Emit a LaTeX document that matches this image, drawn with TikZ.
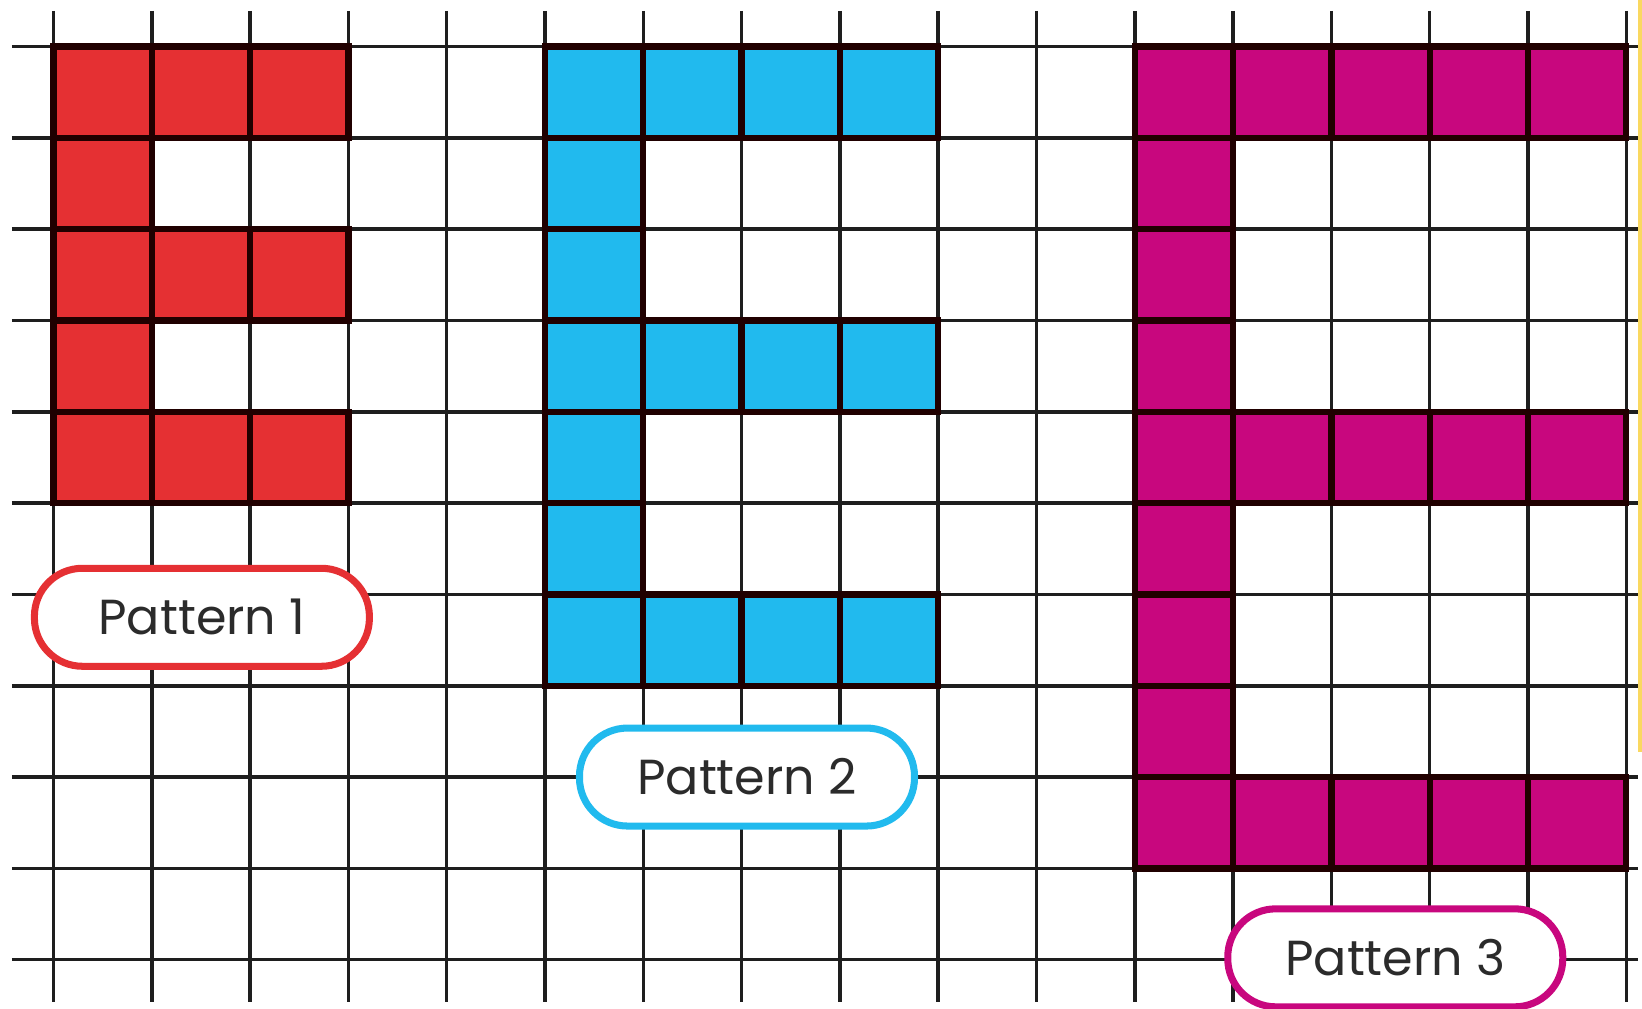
\documentclass[tikz,border=0pt]{standalone}
\usepackage{fontspec}
\setsansfont{Poppins}
\usepackage{tikz}
\usetikzlibrary{positioning}
\definecolor{patred}{HTML}{E53033}
\definecolor{patblue}{HTML}{21BAEE}
\definecolor{patmagenta}{HTML}{C8077E}
\definecolor{gridgray}{HTML}{1E1E1E}
\definecolor{celledge}{HTML}{200000}
\definecolor{edgegold}{HTML}{FAD860}
\definecolor{labeltext}{HTML}{2B2B2B}

\begin{document}
\begin{tikzpicture}[
  x=0.983cm, y=-0.913cm,
  gridline/.style={draw=gridgray, line width=1pt},
  cell/.style={draw=celledge, line width=1.8pt},
  pill/.style={rectangle, fill=white, line width=2pt, rounded corners=0.48cm, minimum width=3.35cm, minimum height=0.98cm, text=labeltext, font=\sffamily\fontsize{14}{16}\selectfont}
]
  \useasboundingbox (-0.544,-0.511) rectangle (16.16,10.54);

  % grid
  \foreach \c in {0,...,16}
    \draw[gridline] (\c,-0.391) -- (\c,10.46);
  \foreach \r in {0,...,10}
    \draw[gridline] (-0.422,\r) -- (16.12,\r);

  % pattern 1
  \foreach \c/\r in {0/0,1/0,2/0,0/1,0/2,1/2,2/2,0/3,0/4,1/4,2/4}
    \draw[cell, fill=patred] (\c,\r) rectangle ++(1,1);

  % pattern 2
  \foreach \r in {0,3,6}
    \foreach \c in {5,...,8}
      \draw[cell, fill=patblue] (\c,\r) rectangle ++(1,1);
  \foreach \r in {1,2,4,5}
    \draw[cell, fill=patblue] (5,\r) rectangle ++(1,1);

  % pattern 3
  \foreach \r in {0,4,8}
    \foreach \c in {11,...,15}
      \draw[cell, fill=patmagenta] (\c,\r) rectangle ++(1,1);
  \foreach \r in {1,2,3,5,6,7}
    \draw[cell, fill=patmagenta] (11,\r) rectangle ++(1,1);

  % edge strip
  \draw[edgegold, line width=1pt] (16.14,-0.511) -- (16.14,7.725);

  % labels
  \node[pill, draw=patred] (p1) at (1.51,6.25) {Pattern 1};
  \node[pill, draw=patblue] (p2) at (7.055,8.0) {Pattern 2};
  \node[pill, draw=patmagenta] (p3) at (13.65,9.98) {Pattern 3};
\end{tikzpicture}
\end{document}
